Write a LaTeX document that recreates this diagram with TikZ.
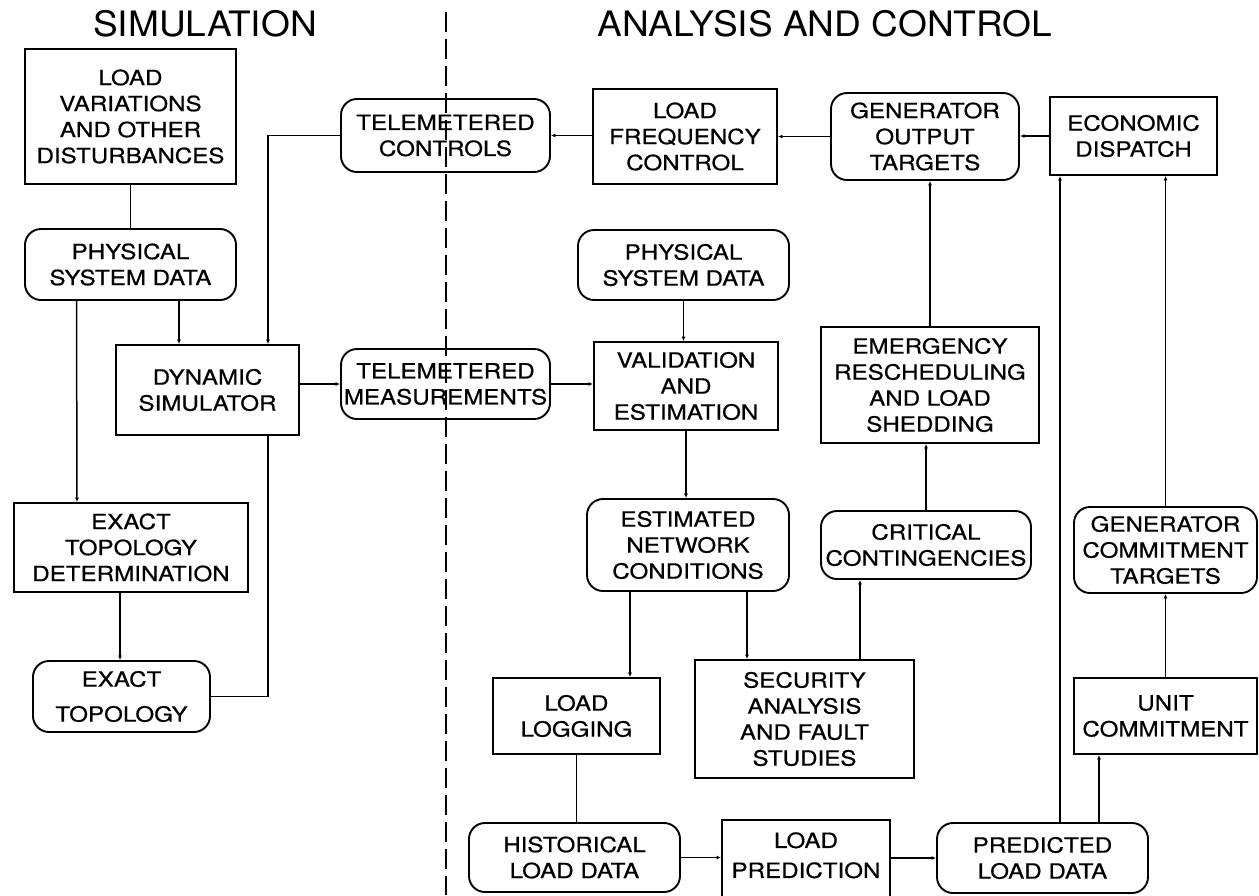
\documentclass[tikz,border=0pt]{standalone}
\usepackage{fontspec}
\setmainfont{TeX Gyre Heros}[FakeStretch=1.15,FakeBold=0.6]
\newfontfamily\ttlfont{TeX Gyre Heros}[FakeStretch=1.06]
\usetikzlibrary{arrows.meta}

\begin{document}
\begin{tikzpicture}[
  x=1pt, y=-1pt,
  font=\fontsize{21}{26}\selectfont,
  blk/.style={draw, line width=1.9pt, align=center, inner sep=2pt},
  rnd/.style={blk, rounded corners=16pt},
  ln/.style={line width=1.5pt},
  arr/.style={ln, -{Latex[length=4.5pt,width=4pt]}},
  ttl/.style={font=\ttlfont\fontsize{35}{40}\selectfont},
  divider/.style={line width=1.5pt, dash pattern=on 20pt off 7pt},
]
\useasboundingbox (0,0) rectangle (1259,895);
% ---- headings ----
\node[ttl] (hsim) at (205,24) {SIMULATION};
\node[ttl] (hana) at (825,24) {ANALYSIS AND CONTROL};
% ---- simulation side ----
\node[blk, minimum width=211pt, minimum height=135pt] (lvar) at (130.5,116.5) {LOAD\\VARIATIONS\\AND OTHER\\DISTURBANCES};
\node[rnd, minimum width=211pt, minimum height=71pt] (psdL) at (130.5,264.5) {PHYSICAL\\SYSTEM DATA};
\node[blk, minimum width=183pt, minimum height=90pt] (dsim) at (207.5,390) {DYNAMIC\\SIMULATOR};
\node[blk, minimum width=234pt, minimum height=89pt] (etd) at (131,547.5) {EXACT\\TOPOLOGY\\DETERMINATION};
\node[rnd, minimum width=177pt, minimum height=71pt] (etop) at (121.5,696.5) {EXACT\\[9pt]TOPOLOGY};
% ---- telemetry ----
\node[rnd, minimum width=209pt, minimum height=73pt] (tctl) at (445.5,135.5) {TELEMETERED\\CONTROLS};
\node[rnd, minimum width=209pt, minimum height=70pt] (tmeas) at (445.5,384) {TELEMETERED\\MEASUREMENTS};
% ---- analysis and control side ----
\node[blk, minimum width=184pt, minimum height=95pt] (lfc) at (685,136.5) {LOAD\\FREQUENCY\\CONTROL};
\node[rnd, minimum width=188pt, minimum height=87pt] (got) at (925,136.5) {GENERATOR\\OUTPUT\\TARGETS};
\node[blk, minimum width=167pt, minimum height=78pt] (edis) at (1133.5,136) {ECONOMIC\\DISPATCH};
\node[rnd, minimum width=211pt, minimum height=70pt] (psdR) at (683.5,265) {PHYSICAL\\SYSTEM DATA};
\node[blk, minimum width=184pt, minimum height=88pt] (vest) at (686,386) {VALIDATION\\AND\\ESTIMATION};
\node[blk, minimum width=218pt, minimum height=116pt] (emrg) at (930,385) {EMERGENCY\\RESCHEDULING\\AND LOAD\\SHEDDING};
\node[rnd, minimum width=202pt, minimum height=92pt] (enc) at (688,545) {ESTIMATED\\NETWORK\\CONDITIONS};
\node[rnd, minimum width=210pt, minimum height=68pt] (ccon) at (926,545) {CRITICAL\\CONTINGENCIES};
\node[rnd, minimum width=183pt, minimum height=86pt] (gct) at (1165.5,550) {GENERATOR\\COMMITMENT\\TARGETS};
\node[blk, minimum width=167pt, minimum height=76pt] (llog) at (576.5,716) {LOAD\\LOGGING};
\node[blk, minimum width=219pt, minimum height=118pt] (secu) at (804.5,719) {SECURITY\\ANALYSIS\\AND FAULT\\STUDIES};
\node[blk, minimum width=183pt, minimum height=76pt] (ucom) at (1165.5,716) {UNIT\\COMMITMENT};
\node[rnd, minimum width=211pt, minimum height=69pt] (hld) at (574.5,857.5) {HISTORICAL\\LOAD DATA};
\node[blk, anchor=north, minimum width=168pt, text height=56pt, text depth=22pt] (lpred) at (806,819) {LOAD\\[4pt]PREDICTION};
\node[rnd, minimum width=211pt, minimum height=70pt] (pld) at (1042.5,858) {PREDICTED\\LOAD DATA};
% ---- divider ----
\draw[divider] (446,12) -- (446,895);
% ---- simulation links ----
\draw[ln] (lvar) -- (psdL);
\draw[arr] ([xshift=48.5pt]psdL.south) -- ([xshift=-28.5pt]dsim.north);
\draw[arr] ([xshift=-54pt]psdL.south) -- ([xshift=-54pt]etd.north);
\draw[arr] ([xshift=-11pt]etd.south) -- ([xshift=-1.5pt]etop.north);
\draw[arr] (tctl.west) -| ([xshift=60.5pt]dsim.north);
\draw[ln] (etop.east) -| ([xshift=60.5pt]dsim.south);
\draw[arr] (dsim.east |- tmeas.west) -- (tmeas.west);
\draw[arr] (tmeas.east) -- (tmeas.east -| vest.west);
% ---- control loop ----
\draw[arr] (lfc.west |- tctl.east) -- (tctl.east);
\draw[arr] (got.west) -- (got.west -| lfc.east);
\draw[arr] (edis.west) -- (edis.west -| got.east);
\draw[arr] (emrg.north) -- (emrg.north |- got.south);
\draw[arr] (ccon.north) -- (ccon.north |- emrg.south);
\draw[arr] ([xshift=55.5pt]secu.north) -- ([xshift=-66pt]ccon.south);
% ---- estimation chain ----
\draw[arr] (psdR.south) -- (psdR.south |- vest.north);
\draw[arr] (vest.south) -- (vest.south |- enc.north);
\draw[arr] ([xshift=59pt]enc.south) -- ([xshift=-57.5pt]secu.north);
\draw[arr] ([xshift=-58pt]enc.south) -- ([xshift=53.5pt]llog.north);
\draw[ln] (llog.south) -- (llog.south |- hld.north);
% ---- load prediction and scheduling ----
\draw[arr] (hld.east) -- (hld.east -| lpred.west);
\draw[arr] (pld.west -| lpred.east) -- (pld.west);
\draw[arr] ([xshift=17.5pt]pld.north) -- ([xshift=-73.5pt]edis.south);
\draw[arr] ([xshift=56.5pt]pld.north) -- ([xshift=-66.5pt]ucom.south);
\draw[arr] (ucom.north) -- (gct.south);
\draw[arr] (gct.north) -- ([xshift=32pt]edis.south);
\end{tikzpicture}
\end{document}
